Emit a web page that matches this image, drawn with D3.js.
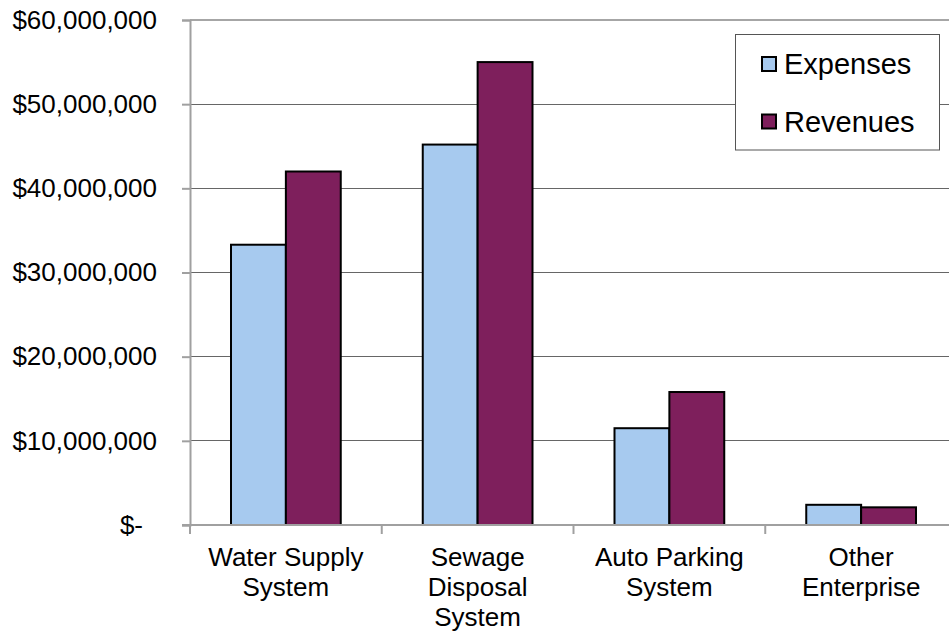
<!DOCTYPE html>
<html>
<head>
<meta charset="utf-8">
<script src="https://cdn.jsdelivr.net/npm/d3@7"></script>
<style>
  html, body { margin: 0; padding: 0; background: #fff; }
  svg { display: block; font-family: "Liberation Sans", Arial, sans-serif; }
</style>
</head>
<body>
<svg id="chart" width="949" height="631"></svg>
<script>
// Enterprise funds: expenses vs revenues
const categories = [
  ["Water Supply", "System"],
  ["Sewage", "Disposal", "System"],
  ["Auto Parking", "System"],
  ["Other", "Enterprise"]
];
const seriesNames = ["Expenses", "Revenues"];
const expenses = [33300000, 45200000, 11500000, 2400000];
const revenues = [42000000, 55000000, 15800000, 2100000];
const yTicks = [0, 10000000, 20000000, 30000000, 40000000, 50000000, 60000000];
const colors = ["#a7caef", "#7e1f5c"];

const svg = d3.select("#chart");
const plotLeft = 190, plotTop = 20, plotBottom = 525, plotRight = 957;

const catKeys = categories.map(c => c.join(" "));
const x0 = d3.scaleBand().domain(catKeys).range([plotLeft, plotRight]).paddingInner(0).paddingOuter(0);
const x1 = d3.scaleBand().domain(seriesNames).range([41, x0.bandwidth() - 41]).padding(0);
const y = d3.scaleLinear().domain([0, 60000000]).range([plotBottom, plotTop]);

// horizontal gridlines
svg.append("g")
  .attr("shape-rendering", "crispEdges")
  .selectAll("line")
  .data(yTicks.filter(t => t > 0 && t < 60000000))
  .join("line")
  .attr("x1", plotLeft).attr("x2", 949)
  .attr("y1", d => y(d)).attr("y2", d => y(d))
  .attr("stroke", "#666").attr("stroke-width", 1);

// top border of plot area
svg.append("line")
  .attr("x1", plotLeft).attr("x2", 949)
  .attr("y1", y(60000000)).attr("y2", y(60000000))
  .attr("stroke", "#a6a6a6").attr("stroke-width", 2);

// bars
const data = catKeys.map((k, i) => ({ key: k, values: [expenses[i], revenues[i]] }));
const groups = svg.append("g").selectAll("g")
  .data(data).join("g")
  .attr("transform", d => `translate(${x0(d.key)},0)`);
groups.selectAll("rect")
  .data(d => d.values.map((v, j) => ({ name: seriesNames[j], value: v, j })))
  .join("rect")
  .attr("x", d => x1(d.name))
  .attr("width", x1.bandwidth())
  .attr("y", d => y(d.value))
  .attr("height", d => y(0) - y(d.value))
  .attr("fill", d => colors[d.j])
  .attr("stroke", "#000").attr("stroke-width", 2);

// y axis
const fmt = d3.format("$,.0f");
const yAxis = svg.append("g")
  .attr("transform", `translate(${plotLeft},0)`)
  .call(d3.axisLeft(y).tickValues(yTicks).tickSize(8).tickPadding(25)
    .tickFormat(d => d === 0 ? "$-" : fmt(d)));
yAxis.select(".domain").attr("stroke", "#a0a0a0").attr("stroke-width", 2);
yAxis.selectAll(".tick line").attr("stroke", "#a0a0a0").attr("stroke-width", 2);
yAxis.selectAll(".tick text")
  .attr("font-size", 26).attr("fill", "#000")
  .attr("font-family", "Liberation Sans, Arial, sans-serif")
  .attr("dx", d => d === 0 ? -14 : 0);

// x axis baseline with category boundary ticks
const xb = svg.append("g");
xb.append("line")
  .attr("x1", plotLeft - 8).attr("x2", 949)
  .attr("y1", y(0)).attr("y2", y(0))
  .attr("stroke", "#a0a0a0").attr("stroke-width", 2);
xb.selectAll("line.tk")
  .data(catKeys)
  .join("line").attr("class", "tk")
  .attr("x1", d => x0(d)).attr("x2", d => x0(d))
  .attr("y1", y(0)).attr("y2", y(0) + 9)
  .attr("stroke", "#a0a0a0").attr("stroke-width", 2);

// category labels
const labels = svg.append("g").selectAll("text")
  .data(categories).join("text")
  .attr("x", (d, i) => x0(catKeys[i]) + x0.bandwidth() / 2)
  .attr("y", 566)
  .attr("text-anchor", "middle")
  .attr("font-size", 26)
  .attr("fill", "#000");
labels.selectAll("tspan")
  .data(d => d).join("tspan")
  .attr("x", function () { return this.parentNode.getAttribute("x"); })
  .attr("dy", (d, i) => i === 0 ? 0 : 30)
  .text(d => d);

// legend
const lg = svg.append("g");
lg.append("rect")
  .attr("x", 735.5).attr("y", 34.5).attr("width", 204).attr("height", 115.5)
  .attr("fill", "#fff").attr("stroke", "#555").attr("stroke-width", 1);
const items = lg.selectAll("g.item")
  .data(seriesNames).join("g").attr("class", "item")
  .attr("transform", (d, i) => `translate(762,${64 + i * 57.5})`);
items.append("rect")
  .attr("x", 0).attr("y", -7).attr("width", 14).attr("height", 14)
  .attr("fill", (d, i) => colors[i]).attr("stroke", "#000").attr("stroke-width", 2);
items.append("text")
  .attr("x", 22).attr("y", 0).attr("dy", "0.35em")
  .attr("font-size", 29).attr("fill", "#000")
  .text(d => d);
</script>
</body>
</html>
